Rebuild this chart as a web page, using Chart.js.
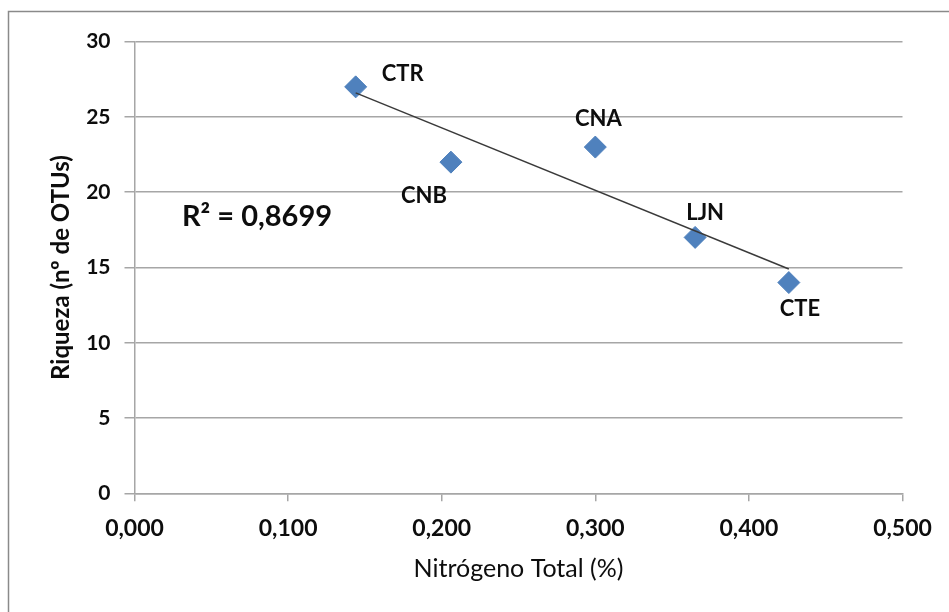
<!DOCTYPE html>
<html>
<head>
<meta charset="utf-8">
<script src="https://cdn.jsdelivr.net/npm/chart.js@4/dist/chart.umd.min.js"></script>
<style>
  html, body { margin: 0; padding: 0; background: #fff; }
  #wrap { width: 949px; height: 612px; position: relative; }
</style>
</head>
<body>
<div id="wrap"><canvas id="c" width="949" height="612"></canvas></div>
<script>
// Sites, total nitrogen (%) and richness (number of OTUs)
const sites = ['CTR', 'CNB', 'CNA', 'LJN', 'CTE'];
const nitrogen = [0.144, 0.206, 0.300, 0.365, 0.426];
const richness = [27, 22, 23, 17, 14];

// Linear trend line endpoints
const trendX = [0.144, 0.426];
const trendY = [26.6, 14.9];
const r2Label = 'R² = 0,8699';

// Axis ranges and tick steps
const xTicks = { min: 0, max: 0.5, step: 0.1 };
const yTicks = { min: 0, max: 30, step: 5 };

const FONT = 'Lato, "Open Sans", sans-serif';
const blue = '#4F81BD';
const gridGrey = '#a6a6a6';
const ink = '#0d0d0d';

// Label offsets around each marker (pixels)
const labelOffsets = [[47, -13], [-27, 34], [3, -28], [10, -24], [11, 26]];

const framePlugin = {
  id: 'frame',
  beforeDraw(chart) {
    const ctx = chart.ctx;
    ctx.save();
    ctx.fillStyle = '#fff';
    ctx.fillRect(0, 0, chart.width, chart.height);
    ctx.strokeStyle = '#8a8a8a';
    ctx.lineWidth = 1.5;
    ctx.strokeRect(8.5, 11.5, 1000, 700);
    ctx.restore();
  }
};

const labelPlugin = {
  id: 'pointLabels',
  afterDatasetsDraw(chart) {
    const ctx = chart.ctx;
    const meta = chart.getDatasetMeta(1);
    ctx.save();
    ctx.fillStyle = ink;
    ctx.font = 'bold 22px ' + FONT;
    ctx.textAlign = 'center';
    ctx.textBaseline = 'middle';
    meta.data.forEach((pt, i) => {
      const o = labelOffsets[i];
      ctx.fillText(sites[i], pt.x + o[0], pt.y + o[1]);
    });
    // R² annotation
    ctx.font = 'bold 29px ' + FONT;
    ctx.fillText(r2Label, 257, 217);
    ctx.restore();
  }
};

new Chart(document.getElementById('c'), {
  type: 'scatter',
  data: {
    datasets: [
      {
        type: 'line',
        label: 'trend',
        data: trendX.map((x, i) => ({ x, y: trendY[i] })),
        borderColor: '#3a3a3a',
        borderWidth: 1.5,
        pointRadius: 0,
        fill: false
      },
      {
        label: 'Riqueza',
        data: nitrogen.map((x, i) => ({ x, y: richness[i] })),
        pointStyle: 'rectRot',
        pointRadius: 11,
        pointHoverRadius: 11,
        backgroundColor: blue,
        borderColor: blue,
        borderWidth: 1
      }
    ]
  },
  options: {
    responsive: false,
    animation: false,
    events: [],
    layout: { padding: { top: 41.7, right: 46.5, bottom: 0, left: 0 } },
    plugins: { legend: { display: false }, tooltip: { enabled: false } },
    scales: {
      x: {
        type: 'linear',
        min: xTicks.min,
        max: xTicks.max,
        afterFit(scale) { scale.height = 612 - 493.3; },
        ticks: {
          stepSize: xTicks.step,
          color: ink,
          font: { family: FONT, size: 23, weight: 'bold' },
          padding: 13,
          maxRotation: 0,
          callback: (v) => Number(v).toFixed(3).replace('.', ',')
        },
        grid: {
          drawOnChartArea: false,
          drawTicks: true,
          tickLength: 8,
          color: gridGrey,
          lineWidth: 1.5
        },
        border: { display: true, color: gridGrey, width: 1.5 },
        title: {
          display: true,
          text: 'Nitrógeno Total (%)',
          color: ink,
          font: { family: FONT, size: 25, weight: 'normal' },
          padding: { top: 0, bottom: 28 }
        }
      },
      y: {
        type: 'linear',
        min: yTicks.min,
        max: yTicks.max,
        afterFit(scale) { scale.width = 134.5; },
        ticks: {
          stepSize: yTicks.step,
          color: ink,
          font: { family: FONT, size: 21, weight: 'bold' },
          padding: 14
        },
        grid: {
          drawTicks: true,
          tickLength: 10,
          color: gridGrey,
          lineWidth: 1.5
        },
        border: { display: true, color: gridGrey, width: 1.5 },
        title: {
          display: true,
          text: 'Riqueza (nº de OTUs)',
          color: ink,
          font: { family: FONT, size: 24, weight: 'bold' },
          padding: { top: 47, bottom: 0 }
        }
      }
    }
  },
  plugins: [framePlugin, labelPlugin]
});
</script>
</body>
</html>
